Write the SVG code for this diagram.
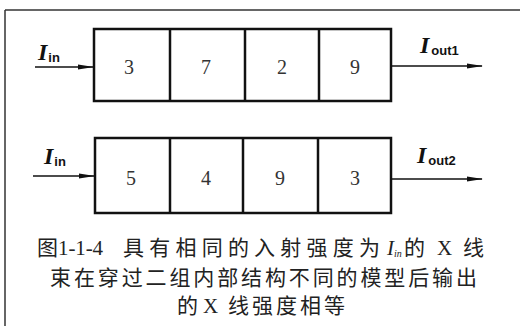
<svg xmlns="http://www.w3.org/2000/svg" width="520" height="326" viewBox="0 0 520 326">
<style>
.box{fill:none;stroke:#111;stroke-width:2.5}
.div{stroke:#111;stroke-width:2.5}
.wire{stroke:#111;stroke-width:1.6;fill:none}
.num{font-family:"Liberation Serif",serif;font-size:20px;fill:#333;text-anchor:middle}
.I{font-family:"Liberation Serif",serif;font-style:italic;font-weight:bold;font-size:24px;fill:#111}
.sub{font-family:"Liberation Sans",sans-serif;font-weight:bold;font-size:13px;fill:#111}
.cap{font-family:"Noto Sans CJK SC",sans-serif;font-size:21px;fill:#222}
.capl{font-family:"Liberation Serif",serif;font-size:21px;fill:#222}
</style>
<defs>
<marker id="ah" markerWidth="16" markerHeight="6" refX="15" refY="3" orient="auto" markerUnits="userSpaceOnUse">
<path d="M0,0.5 L16,3 L0,5.5 Z" fill="#111"/>
</marker>
</defs>
<rect width="520" height="326" fill="#fff"/>
<g id="frame">
<line x1="5" y1="10" x2="520" y2="10" stroke="#333" stroke-width="1.5"/>
<line x1="5" y1="10" x2="5" y2="326" stroke="#333" stroke-width="1.5"/>
</g>
<g id="model1">
<rect class="box" x="94" y="29" width="297" height="72"/>
<line class="div" x1="170" y1="29" x2="170" y2="101"/>
<line class="div" x1="245" y1="29" x2="245" y2="101"/>
<line class="div" x1="319" y1="29" x2="319" y2="101"/>
<text class="num" x="129" y="74">3</text>
<text class="num" x="206" y="74">7</text>
<text class="num" x="282" y="74">2</text>
<text class="num" x="355" y="74">9</text>
</g>
<g id="model2">
<rect class="box" x="95" y="138" width="296" height="75"/>
<line class="div" x1="170" y1="138" x2="170" y2="213"/>
<line class="div" x1="243" y1="138" x2="243" y2="213"/>
<line class="div" x1="318" y1="138" x2="318" y2="213"/>
<text class="num" x="131" y="185">5</text>
<text class="num" x="206" y="185">4</text>
<text class="num" x="280" y="185">9</text>
<text class="num" x="355" y="185">3</text>
</g>
<g id="connectors">
<line class="wire" x1="35" y1="67" x2="93" y2="67" marker-end="url(#ah)"/>
<line class="wire" x1="391" y1="66" x2="482" y2="66" marker-end="url(#ah)"/>
<line class="wire" x1="33" y1="176" x2="94" y2="176" marker-end="url(#ah)"/>
<line class="wire" x1="391" y1="179" x2="482" y2="179" marker-end="url(#ah)"/>
</g>
<g id="labels">
<text x="38" y="60"><tspan class="I">I</tspan><tspan class="sub" dx="1" dy="2">in</tspan></text>
<text x="420" y="53"><tspan class="I">I</tspan><tspan class="sub" dx="2" dy="2">out1</tspan></text>
<text x="44" y="164"><tspan class="I">I</tspan><tspan class="sub" dx="1" dy="2">in</tspan></text>
<text x="417" y="163"><tspan class="I">I</tspan><tspan class="sub" dx="2" dy="2">out2</tspan></text>
</g>
<g id="caption">
<text class="cap" x="37" y="255">图</text>
<text class="capl" x="58" y="255" textLength="45" lengthAdjust="spacing">1-1-4</text>
<text class="cap" x="123" y="255" textLength="257" lengthAdjust="spacing">具有相同的入射强度为</text>
<text class="capl" x="387" y="255" font-style="italic">I<tspan font-size="10" dy="2">in</tspan></text>
<text class="cap" x="404" y="255">的</text>
<text class="capl" x="437" y="255">X</text>
<text class="cap" x="463" y="255">线</text>
<text class="cap" x="50" y="285" textLength="427" lengthAdjust="spacing">束在穿过二组内部结构不同的模型后输出</text>
<text class="cap" x="177" y="313">的</text>
<text class="capl" x="203" y="313">X</text>
<text class="cap" x="228" y="313" textLength="117" lengthAdjust="spacing">线强度相等</text>
</g>
</svg>
